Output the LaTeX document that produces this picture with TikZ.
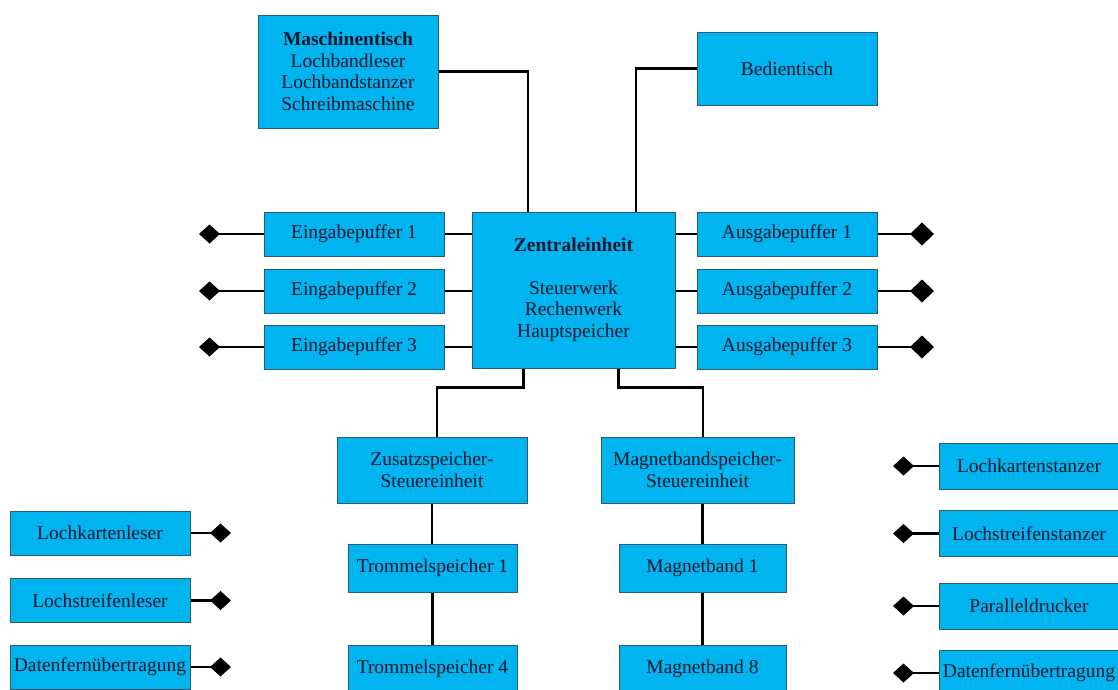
\documentclass[tikz,border=0pt]{standalone}
\usepackage{fontspec}
\setmainfont{Liberation Serif}
\usepackage{xcolor}
\usepackage{tikz}
\usetikzlibrary{calc,arrows.meta}

\definecolor{boxblue}{RGB}{0,180,240}
\definecolor{boxedge}{RGB}{45,90,120}
\definecolor{textnavy}{RGB}{15,22,45}

\begin{document}
\begin{tikzpicture}[x=1pt,y=-1pt,
  font=\fontsize{19.5}{21.5}\selectfont,
  unit/.style={draw=boxedge,line width=1pt,fill=boxblue,text=textnavy,
    align=center,inner sep=0pt},
  wire/.style={line width=2.4pt,black},
  port/.style={wire,-{Diamond[length=21pt,width=19pt]}},
  bigport/.style={wire,-{Diamond[length=24pt,width=23pt]}}]
  \useasboundingbox (0,0) rectangle (1118,689);
  % Zentraleinheit und Tische
  \node[unit,minimum width=203pt,minimum height=156pt] (zen) at (573.5,290)
    {\textbf{Zentraleinheit}\\[21pt]Steuerwerk\\Rechenwerk\\Hauptspeicher};
  \node[unit,minimum width=180pt,minimum height=113pt] (masch) at (348,71.5)
    {\textbf{Maschinentisch}\\Lochbandleser\\Lochbandstanzer\\Schreibmaschine};
  \node[unit,minimum width=180pt,minimum height=73pt] (bed) at (787,68.5) {Bedientisch};
  \draw[wire] (masch.east) -| ($(zen.north)+(-45.5,0)$);
  \draw[wire] (bed.west) -| ($(zen.north)+(62.5,0)$);
  % Puffer
  \node[unit,minimum width=180pt,minimum height=44pt] (ein1) at (354,234) {Eingabepuffer 1};
  \node[unit,minimum width=180pt,minimum height=44pt] (ein2) at (354,291) {Eingabepuffer 2};
  \node[unit,minimum width=180pt,minimum height=44pt] (ein3) at (354,347) {Eingabepuffer 3};
  \node[unit,minimum width=180pt,minimum height=44pt] (aus1) at (787,234) {Ausgabepuffer 1};
  \node[unit,minimum width=180pt,minimum height=44pt] (aus2) at (787,291) {Ausgabepuffer 2};
  \node[unit,minimum width=180pt,minimum height=44pt] (aus3) at (787,347) {Ausgabepuffer 3};
  \draw[wire] (ein1.east) -- (ein1.east -| zen.west);
  \draw[wire] (ein2.east) -- (ein2.east -| zen.west);
  \draw[wire] (ein3.east) -- (ein3.east -| zen.west);
  \draw[wire] (aus1.west) -- (aus1.west -| zen.east);
  \draw[wire] (aus2.west) -- (aus2.west -| zen.east);
  \draw[wire] (aus3.west) -- (aus3.west -| zen.east);
  \coordinate (ein1p) at (199,234);
  \coordinate (ein2p) at (199,291);
  \coordinate (ein3p) at (199,347);
  \coordinate (aus1p) at (934,234);
  \coordinate (aus2p) at (934,291);
  \coordinate (aus3p) at (934,347);
  \draw[port] (ein1.west) -- (ein1p);
  \draw[port] (ein2.west) -- (ein2p);
  \draw[port] (ein3.west) -- (ein3p);
  \draw[bigport] (aus1.east) -- (aus1p);
  \draw[bigport] (aus2.east) -- (aus2p);
  \draw[bigport] (aus3.east) -- (aus3p);
  % Speicher
  \node[unit,minimum width=190pt,minimum height=66pt] (zus) at (432,470)
    {Zusatzspeicher-\\Steuereinheit};
  \node[unit,minimum width=193pt,minimum height=66pt] (mag) at (697.5,470)
    {Magnetbandspeicher-\\Steuereinheit};
  \node[unit,minimum width=169pt,minimum height=48pt] (tr1) at (432.5,568) {Trommelspeicher 1};
  \node[unit,minimum width=169pt,minimum height=48pt] (tr4) at (432.5,669) {Trommelspeicher 4};
  \node[unit,minimum width=167pt,minimum height=48pt] (mb1) at (702.5,568) {Magnetband 1};
  \node[unit,minimum width=167pt,minimum height=48pt] (mb8) at (702.5,669) {Magnetband 8};
  \draw[wire] ($(zen.south)+(-50,0)$) -- ++(0,19) -| ($(zus.north)+(5,0)$);
  \draw[wire] ($(zen.south)+(45,0)$) -- ++(0,19) -| ($(mag.north)+(5.5,0)$);
  \draw[wire] (zus.south) -- (zus.south |- tr1.north);
  \draw[wire] (tr1.south) -- (tr1.south |- tr4.north);
  \draw[wire] (mag.south -| mb1.north) -- (mb1.north);
  \draw[wire] (mb1.south) -- (mb8.north);
  % Eingabegeraete
  \node[unit,minimum width=180pt,minimum height=44pt] (lkl) at (100,533) {Lochkartenleser};
  \node[unit,minimum width=180pt,minimum height=44pt] (lsl) at (100,600.5) {Lochstreifenleser};
  \node[unit,minimum width=180pt,minimum height=44pt] (dfl) at (100,667) {Datenfernübertragung};
  \coordinate (lklp) at (231,533);
  \coordinate (lslp) at (231,600.5);
  \coordinate (dflp) at (231,667);
  \draw[port] (lkl.east) -- (lklp);
  \draw[port] (lsl.east) -- (lslp);
  \draw[port] (dfl.east) -- (dflp);
  % Ausgabegeraete
  \node[unit,minimum width=180pt,minimum height=46pt] (lks) at (1029,466) {Lochkartenstanzer};
  \node[unit,minimum width=180pt,minimum height=46pt] (lss) at (1029,533.5) {Lochstreifenstanzer};
  \node[unit,minimum width=180pt,minimum height=46pt] (pd) at (1029,606) {Paralleldrucker};
  \node[unit,minimum width=180pt,minimum height=46pt] (dfr) at (1029,673) {Datenfernübertragung};
  \coordinate (lksp) at (893,466);
  \coordinate (lssp) at (893,533.5);
  \coordinate (pdp) at (893,606);
  \coordinate (dfrp) at (893,673);
  \draw[port] (lks.west) -- (lksp);
  \draw[port] (lss.west) -- (lssp);
  \draw[port] (pd.west) -- (pdp);
  \draw[port] (dfr.west) -- (dfrp);
\end{tikzpicture}
\end{document}
